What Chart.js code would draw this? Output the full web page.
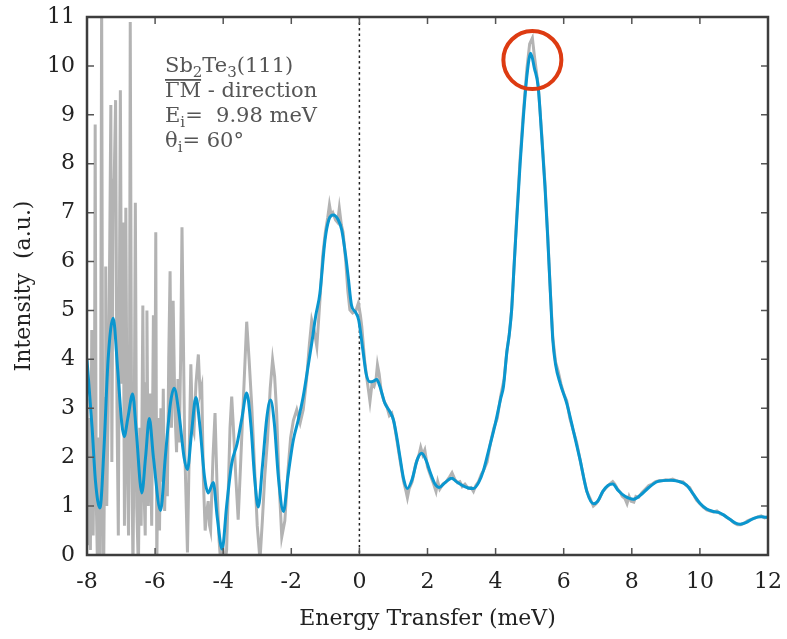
<!DOCTYPE html>
<html>
<head>
<meta charset="utf-8">
<script src="https://cdn.jsdelivr.net/npm/chart.js@4/dist/chart.umd.min.js"></script>
<style>
  html, body { margin: 0; padding: 0; background: #fff; }
  #wrap { width: 787px; height: 639px; }
</style>
</head>
<body>
<div id="wrap"><canvas id="chart"></canvas></div>
<script>
// smoothed curve (blue)
const smoothX = [-8.0, -7.85, -7.75, -7.62, -7.5, -7.38, -7.23, -7.1, -6.98, -6.91, -6.8, -6.66, -6.55, -6.39, -6.28, -6.17, -6.05, -5.84, -5.7, -5.55,
  -5.44, -5.3, -5.15, -5.05, -4.93, -4.8, -4.68, -4.55, -4.44, -4.29, -4.18, -4.03, -3.9, -3.75, -3.59, -3.45, -3.31, -3.18, -3.08, -2.97,
  -2.85, -2.72, -2.61, -2.5, -2.38, -2.23, -2.1, -1.94, -1.8, -1.65, -1.52, -1.4, -1.28, -1.16, -1.01, -0.9, -0.77, -0.62, -0.52, -0.4,
  -0.33, -0.23, -0.12, -0.02, 0.1, 0.2, 0.31, 0.4, 0.51, 0.6, 0.75, 0.88, 1.0, 1.1, 1.19, 1.3, 1.41, 1.55, 1.7, 1.83,
  1.95, 2.1, 2.22, 2.34, 2.5, 2.71, 2.85, 3.0, 3.2, 3.35, 3.5, 3.64, 3.8, 3.98, 4.15, 4.23, 4.33, 4.4, 4.47, 4.55,
  4.62, 4.72, 4.81, 4.92, 5.03, 5.14, 5.25, 5.35, 5.45, 5.53, 5.6, 5.68, 5.76, 5.9, 6.09, 6.28, 6.48, 6.68, 6.87, 7.0,
  7.15, 7.3, 7.44, 7.6, 7.8, 8.04, 8.25, 8.5, 8.75, 9.12, 9.35, 9.61, 9.8, 10.0, 10.2, 10.39, 10.55, 10.69, 10.9, 11.05,
  11.18, 11.35, 11.58, 11.8, 12.0];
const smoothY = [3.99, 2.6, 1.5, 0.96, 2.2, 4.0, 4.84, 3.8, 2.7, 2.42, 2.8, 3.29, 2.5, 1.27, 2.0, 2.79, 2.0, 0.91, 2.0, 3.1,
  3.41, 2.9, 2.0, 1.75, 2.5, 3.22, 2.6, 1.6, 1.27, 1.48, 0.8, 0.12, 1.0, 1.87, 2.28, 2.8, 3.31, 2.6, 1.6, 0.98,
  1.8, 2.8, 3.17, 2.7, 1.6, 0.89, 1.6, 2.35, 2.75, 3.24, 3.8, 4.33, 4.9, 5.35, 6.44, 6.85, 6.95, 6.85, 6.65, 6.1,
  5.69, 5.1, 4.97, 4.8, 4.2, 3.7, 3.54, 3.55, 3.59, 3.45, 3.1, 2.95, 2.76, 2.4, 2.01, 1.55, 1.36, 1.55, 1.95, 2.08,
  1.95, 1.65, 1.45, 1.38, 1.47, 1.57, 1.5, 1.43, 1.37, 1.36, 1.48, 1.72, 2.15, 2.65, 3.2, 3.44, 4.15, 4.5, 5.0, 6.0,
  6.85, 8.0, 8.9, 9.8, 10.26, 9.95, 9.58, 8.6, 7.53, 6.5, 5.49, 4.4, 3.9, 3.5, 3.1, 2.55, 1.95, 1.3, 1.05, 1.1,
  1.3, 1.42, 1.45, 1.32, 1.2, 1.14, 1.22, 1.38, 1.5, 1.53, 1.51, 1.43, 1.25, 1.06, 0.94, 0.89, 0.87, 0.82, 0.72, 0.65,
  0.63, 0.66, 0.75, 0.78, 0.77];

// raw measurement (gray)
const rawX = [-8.0, -7.97, -7.94, -7.9, -7.86, -7.82, -7.78, -7.76, -7.73, -7.69, -7.65, -7.61, -7.57, -7.54, -7.51, -7.47, -7.45, -7.42, -7.38, -7.33,
  -7.3, -7.27, -7.23, -7.2, -7.16, -7.12, -7.08, -7.05, -7.02, -6.98, -6.94, -6.9, -6.86, -6.82, -6.78, -6.75, -6.73, -6.69, -6.65, -6.61,
  -6.58, -6.54, -6.49, -6.45, -6.41, -6.36, -6.32, -6.29, -6.26, -6.24, -6.2, -6.15, -6.1, -6.05, -6.01, -5.98, -5.95, -5.91, -5.87, -5.83,
  -5.79, -5.76, -5.72, -5.68, -5.64, -5.6, -5.56, -5.52, -5.47, -5.42, -5.37, -5.33, -5.29, -5.25, -5.21, -5.13, -5.05, -4.98, -4.95, -4.9,
  -4.86, -4.8, -4.73, -4.68, -4.63, -4.58, -4.53, -4.48, -4.44, -4.4, -4.37, -4.3, -4.24, -4.18, -4.12, -4.07, -4.0, -3.95, -3.9, -3.84,
  -3.8, -3.75, -3.7, -3.63, -3.56, -3.48, -3.4, -3.31, -3.24, -3.16, -3.08, -3.0, -2.92, -2.85, -2.78, -2.7, -2.62, -2.55, -2.49, -2.43,
  -2.36, -2.28, -2.19, -2.1, -2.02, -1.94, -1.84, -1.74, -1.65, -1.55, -1.47, -1.4, -1.33, -1.25, -1.16, -1.08, -1.0, -0.93, -0.88, -0.83,
  -0.78, -0.7, -0.64, -0.59, -0.53, -0.48, -0.4, -0.34, -0.28, -0.2, -0.1, -0.03, 0.03, 0.07, 0.15, 0.22, 0.28, 0.31, 0.37, 0.43,
  0.49, 0.53, 0.58, 0.64, 0.72, 0.8, 0.88, 0.95, 1.02, 1.1, 1.19, 1.3, 1.37, 1.41, 1.46, 1.55, 1.65, 1.75, 1.8, 1.86,
  1.92, 2.0, 2.1, 2.18, 2.25, 2.3, 2.36, 2.45, 2.55, 2.65, 2.72, 2.8, 2.88, 2.95, 3.02, 3.1, 3.2, 3.28, 3.35, 3.42,
  3.5, 3.58, 3.66, 3.75, 3.85, 3.95, 4.05, 4.15, 4.25, 4.33, 4.4, 4.47, 4.55, 4.62, 4.72, 4.81, 4.92, 5.0, 5.08, 5.14,
  5.25, 5.35, 5.45, 5.53, 5.6, 5.68, 5.76, 5.84, 5.92, 6.0, 6.09, 6.18, 6.28, 6.38, 6.48, 6.58, 6.68, 6.78, 6.87, 6.95,
  7.05, 7.15, 7.25, 7.35, 7.44, 7.5, 7.58, 7.66, 7.72, 7.8, 7.86, 7.92, 7.98, 8.06, 8.12, 8.2, 8.3, 8.4, 8.5, 8.6,
  8.7, 8.8, 8.9, 9.0, 9.1, 9.2, 9.3, 9.4, 9.5, 9.6, 9.7, 9.8, 9.9, 10.0, 10.1, 10.2, 10.3, 10.4, 10.5, 10.6,
  10.7, 10.8, 10.9, 11.0, 11.1, 11.2, 11.3, 11.4, 11.5, 11.6, 11.7, 11.8, 11.9, 12.0];
const rawY = [3.2, 0.2, 2.8, 0.1, 4.6, 0.4, 3.0, 8.8, 1.2, -0.3, 2.4, -0.3, 11.5, 2.0, -0.3, 3.2, 5.9, 1.0, 2.9, 6.5,
  9.2, 1.9, 7.6, 7.7, 9.3, 3.0, 0.4, 5.0, 9.5, 3.5, 6.8, 0.6, 7.1, 2.0, 0.4, 4.0, 10.9, 2.5, -0.3, 3.0,
  7.2, 1.0, -0.3, 2.6, 0.6, 5.1, 1.2, 0.4, 3.5, 5.0, 1.0, 3.3, 0.6, 4.9, 2.0, 6.6, -0.3, 2.8, 0.5, 3.0,
  1.5, 3.4, 0.9, 2.2, 1.2, 4.0, 5.8, 2.6, 5.2, 3.0, 2.1, 3.6, 2.3, 4.0, 6.7, 2.2, 0.05, 2.8, 3.9, 2.6,
  2.5, 3.5, 4.1, 3.3, 3.45, 1.5, 0.5, 0.9, 1.1, 0.6, 0.5, 2.0, 2.9, 1.4, 0.3, -0.2, 0.1, -0.2, 0.1, 1.6,
  2.6, 3.24, 2.6, 1.6, 0.72, 2.0, 3.3, 4.77, 4.0, 3.03, 1.8, 0.6, -0.1, 0.7, 1.6, 2.35, 3.4, 3.99, 3.65, 2.9,
  1.5, 0.37, 0.7, 1.7, 2.4, 2.75, 2.97, 2.7, 2.97, 3.6, 4.3, 4.8, 4.6, 4.26, 5.2, 6.1, 6.6, 6.9, 7.16, 6.95,
  7.0, 6.85, 6.8, 7.09, 6.75, 6.6, 6.0, 5.4, 5.01, 4.95, 5.0, 5.15, 4.9, 4.67, 4.0, 3.6, 3.3, 3.14, 3.5, 3.45,
  3.6, 3.89, 3.7, 3.35, 3.15, 3.05, 2.85, 2.9, 2.7, 2.35, 1.95, 1.5, 1.3, 1.17, 1.35, 1.5, 1.85, 2.05, 2.2, 2.05,
  2.15, 1.8, 1.6, 1.45, 1.3, 1.5, 1.35, 1.45, 1.5, 1.6, 1.68, 1.55, 1.48, 1.5, 1.4, 1.45, 1.36, 1.38, 1.3, 1.42,
  1.5, 1.65, 1.75, 1.9, 2.3, 2.6, 2.8, 3.25, 3.6, 4.15, 4.5, 5.0, 6.0, 6.9, 8.1, 9.0, 9.95, 10.45, 10.57, 10.2,
  9.6, 8.65, 7.6, 6.55, 5.5, 4.45, 3.95, 3.75, 3.5, 3.3, 3.15, 2.8, 2.55, 2.3, 1.95, 1.6, 1.3, 1.15, 1.0, 1.05,
  1.15, 1.3, 1.38, 1.45, 1.5, 1.45, 1.35, 1.28, 1.2, 1.15, 1.05, 1.2, 1.1, 1.08, 1.2, 1.18, 1.28, 1.35, 1.42, 1.45,
  1.5, 1.52, 1.52, 1.54, 1.53, 1.55, 1.52, 1.5, 1.5, 1.42, 1.38, 1.25, 1.12, 1.05, 0.98, 0.92, 0.9, 0.88, 0.9, 0.84,
  0.82, 0.76, 0.72, 0.66, 0.62, 0.62, 0.65, 0.7, 0.73, 0.75, 0.78, 0.8, 0.76, 0.78];

const xTicks = [-8, -6, -4, -2, 0, 2, 4, 6, 8, 10, 12];
const yTicks = [0, 1, 2, 3, 4, 5, 6, 7, 8, 9, 10, 11];
const peakMark = { x: 5.08, y: 10.12 };

const FONT = "'DejaVu Serif', serif";

function toPoints(xs, ys) {
  return xs.map((x, i) => ({ x: x, y: ys[i] }));
}

// frame, inward ticks, zero line, peak circle, annotation text
const decorPlugin = {
  id: "decor",
  beforeDatasetsDraw(chart) {
    const ctx = chart.ctx;
    const a = chart.chartArea;
    const xs = chart.scales.x;
    ctx.save();
    ctx.strokeStyle = "#222";
    ctx.lineWidth = 1.5;
    ctx.setLineDash([2.5, 3]);
    const x0 = xs.getPixelForValue(0);
    ctx.beginPath();
    ctx.moveTo(x0, a.top);
    ctx.lineTo(x0, a.bottom);
    ctx.stroke();
    ctx.restore();
  },
  afterDatasetsDraw(chart) {
    const ctx = chart.ctx;
    const a = chart.chartArea;
    const xs = chart.scales.x;
    const ys = chart.scales.y;

    // red circle around the main peak
    ctx.save();
    ctx.strokeStyle = "#dd3b12";
    ctx.lineWidth = 4;
    ctx.beginPath();
    ctx.arc(xs.getPixelForValue(peakMark.x), ys.getPixelForValue(peakMark.y), 29, 0, Math.PI * 2);
    ctx.stroke();
    ctx.restore();

    // ticks inside
    ctx.save();
    ctx.strokeStyle = "#555";
    ctx.lineWidth = 1.5;
    ctx.beginPath();
    xTicks.forEach((v) => {
      const px = xs.getPixelForValue(v);
      ctx.moveTo(px, a.bottom);
      ctx.lineTo(px, a.bottom - 7);
      ctx.moveTo(px, a.top);
      ctx.lineTo(px, a.top + 7);
    });
    yTicks.forEach((v) => {
      const py = ys.getPixelForValue(v);
      ctx.moveTo(a.left, py);
      ctx.lineTo(a.left + 7, py);
      ctx.moveTo(a.right, py);
      ctx.lineTo(a.right - 7, py);
    });
    ctx.stroke();

    // box
    ctx.strokeStyle = "#3d3d3d";
    ctx.lineWidth = 2.5;
    ctx.strokeRect(a.left, a.top, a.right - a.left, a.bottom - a.top);
    ctx.restore();

    // annotation
    ctx.save();
    ctx.fillStyle = "#555";
    ctx.textBaseline = "alphabetic";
    const big = "21px " + FONT;
    const small = "15px " + FONT;
    const tx = a.left + 78;
    let y1 = a.top + 55;
    const lh = 25;

    function run(parts, y) {
      let x = tx;
      parts.forEach((p) => {
        ctx.font = p.sub ? small : big;
        ctx.fillText(p.t, x, y + (p.sub ? 5 : 0));
        x += ctx.measureText(p.t).width;
      });
    }
    run([{ t: "Sb" }, { t: "2", sub: true }, { t: "Te" }, { t: "3", sub: true }, { t: "(111)" }], y1);
    // overlined Gamma-M
    ctx.font = big;
    const gmW = ctx.measureText("ΓM").width;
    ctx.fillRect(tx, y1 + lh - 18, gmW, 1.8);
    run([{ t: "ΓM - direction" }], y1 + lh);
    run([{ t: "E" }, { t: "i", sub: true }, { t: "=  9.98 meV" }], y1 + 2 * lh);
    run([{ t: "θ" }, { t: "i", sub: true }, { t: "= 60°" }], y1 + 3 * lh);
    ctx.restore();
  }
};

new Chart(document.getElementById("chart"), {
  type: "line",
  data: {
    datasets: [
      {
        label: "smoothed",
        data: toPoints(smoothX, smoothY),
        borderColor: "#0a96cf",
        borderWidth: 3,
        pointRadius: 0,
        fill: false,
        cubicInterpolationMode: "monotone",
        order: 0
      },
      {
        label: "raw",
        data: toPoints(rawX, rawY),
        borderColor: "#b3b3b3",
        borderWidth: 3,
        pointRadius: 0,
        fill: false,
        tension: 0,
        order: 1
      }
    ]
  },
  options: {
    responsive: true,
    maintainAspectRatio: false,
    animation: false,
    layout: { padding: { left: 0, right: 19, top: 17, bottom: 0 } },
    plugins: { legend: { display: false }, tooltip: { enabled: false } },
    scales: {
      x: {
        type: "linear",
        min: -8,
        max: 12,
        afterBuildTicks: (s) => { s.ticks = xTicks.map((v) => ({ value: v })); },
        afterFit: (s) => { s.height = 84; s.paddingLeft = 0; s.paddingRight = 0; },
        grid: { display: false, drawTicks: false },
        border: { display: false },
        ticks: { font: { family: FONT, size: 22 }, color: "#222", padding: 14, maxRotation: 0, callback: (v) => String(v) },
        title: { display: true, text: "Energy Transfer (meV)", font: { family: FONT, size: 22 }, color: "#222", padding: { top: 0, bottom: 7 } }
      },
      y: {
        min: 0,
        max: 11,
        afterBuildTicks: (s) => { s.ticks = yTicks.map((v) => ({ value: v })); },
        afterFit: (s) => { s.width = 87; s.paddingTop = 0; s.paddingBottom = 0; },
        grid: { display: false, drawTicks: false },
        border: { display: false },
        ticks: { font: { family: FONT, size: 22 }, color: "#222", padding: 12, callback: (v) => String(v) },
        title: { display: true, text: "Intensity  (a.u.)", font: { family: FONT, size: 22 }, color: "#222", padding: { top: 11, bottom: 0 } }
      }
    }
  },
  plugins: [decorPlugin]
});
</script>
</body>
</html>
